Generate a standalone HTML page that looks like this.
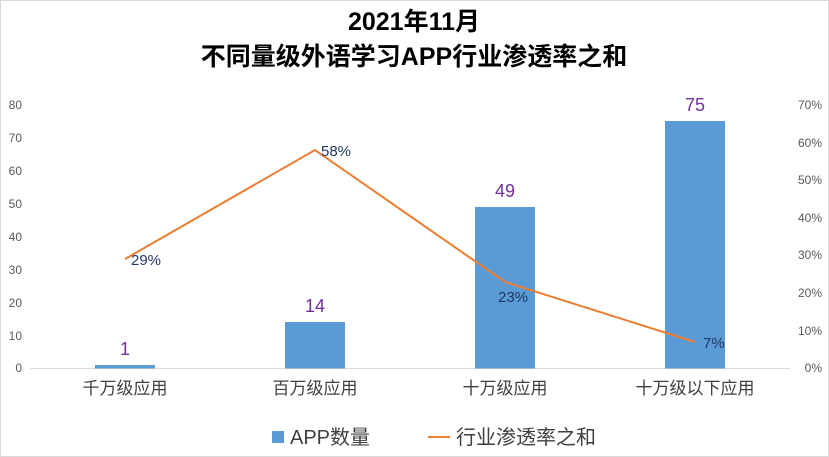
<!DOCTYPE html>
<html><head><meta charset="utf-8"><style>
body{margin:0;background:#fff;}
svg{display:block;font-family:"Liberation Sans","Noto Sans CJK SC",sans-serif;}
</style></head><body>
<svg width="829" height="457" viewBox="0 0 829 457" xmlns="http://www.w3.org/2000/svg">
<rect x="0" y="0" width="829" height="457" fill="#fff"/>
<rect x="0.5" y="0.5" width="828" height="456" fill="none" stroke="#d9d9d9"/>
<text x="414" y="30" text-anchor="middle" font-size="25" font-weight="bold" fill="#000">2021年11月</text>
<text x="414" y="65" text-anchor="middle" font-size="25" font-weight="bold" fill="#000">不同量级外语学习APP行业渗透率之和</text>
<g font-size="12" fill="#595959">
<text x="22" y="109" text-anchor="end">80</text>
<text x="22" y="142" text-anchor="end">70</text>
<text x="22" y="175" text-anchor="end">60</text>
<text x="22" y="208" text-anchor="end">50</text>
<text x="22" y="241" text-anchor="end">40</text>
<text x="22" y="274" text-anchor="end">30</text>
<text x="22" y="307" text-anchor="end">20</text>
<text x="22" y="340" text-anchor="end">10</text>
<text x="22" y="372" text-anchor="end">0</text>
<text x="822" y="109" text-anchor="end">70%</text>
<text x="822" y="147" text-anchor="end">60%</text>
<text x="822" y="184" text-anchor="end">50%</text>
<text x="822" y="222" text-anchor="end">40%</text>
<text x="822" y="259" text-anchor="end">30%</text>
<text x="822" y="297" text-anchor="end">20%</text>
<text x="822" y="335" text-anchor="end">10%</text>
<text x="822" y="372" text-anchor="end">0%</text>
</g>
<line x1="30" y1="368.5" x2="790" y2="368.5" stroke="#d9d9d9"/>
<g fill="#5b9bd5">
<rect x="95" y="365" width="60" height="3.5"/>
<rect x="285" y="322" width="60" height="46.5"/>
<rect x="475" y="207" width="60" height="161.5"/>
<rect x="665" y="121" width="60" height="247.5"/>
</g>
<g font-size="18" fill="#7030a0" text-anchor="middle">
<text x="125" y="355">1</text>
<text x="315" y="312">14</text>
<text x="505" y="197">49</text>
<text x="695" y="111">75</text>
</g>
<polyline points="125,259 315,150 505,282 695,342" fill="none" stroke="#ed7d31" stroke-width="2"/>
<g font-size="15" fill="#203864">
<text x="131" y="265">29%</text>
<text x="321" y="156">58%</text>
<text x="498" y="302">23%</text>
<text x="703" y="348">7%</text>
</g>
<g font-size="17" fill="#404040" text-anchor="middle">
<text x="125" y="394">千万级应用</text>
<text x="315" y="394">百万级应用</text>
<text x="505" y="394">十万级应用</text>
<text x="695" y="394">十万级以下应用</text>
</g>
<rect x="272" y="431" width="12" height="12" fill="#5b9bd5"/>
<text x="290" y="444" font-size="20" fill="#404040">APP数量</text>
<line x1="428" y1="437" x2="450" y2="437" stroke="#ed7d31" stroke-width="2"/>
<text x="456" y="444" font-size="20" fill="#404040">行业渗透率之和</text>
</svg>
</body></html>
